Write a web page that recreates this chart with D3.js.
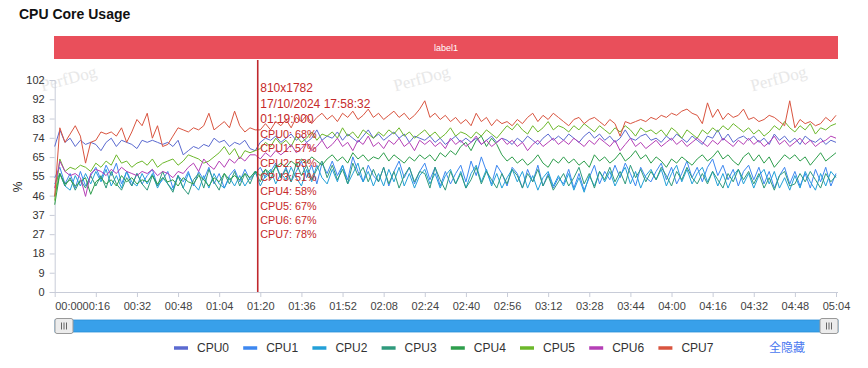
<!DOCTYPE html>
<html><head><meta charset="utf-8">
<script src="https://cdn.jsdelivr.net/npm/d3@7"></script>
<style>body{margin:0;background:#fff;}svg{display:block;font-family:"Liberation Sans",Arial,sans-serif;}</style>
</head><body><svg id="c" width="868" height="368"></svg>
<script>
const seriesNames = ["CPU0","CPU1","CPU2","CPU3","CPU4","CPU5","CPU6","CPU7"];
const colors = ["#5b6ad0","#3d87f0","#23a0d8","#2f9a7c","#2e9e4c","#6cb82b","#b53fb6","#d9543f"];
const timeStep = 2; // seconds between samples
const cpu0 = [70,78,72,74,70,73,71,72,71, 68,72,74,70,73,72,71,69,73, 72,73,72,71,72,70,73,66,68, 70,69,71,70,74,72,73,70,72, 71,73,69,68,72,74,73,75,72, 74,76,73,75,72,74,78,73,75, 74,77,73,76,74,72,75,78,74, 76,73,75,77,74,76,72,75,74, 73,75,72,74,71,73,75,72,74, 72,74,71,73,75,72,74,73,71, 74,72,75,73,71,74,76,73,75, 73,76,74,72,75,77,74,76,73, 75,72,74,78,74,73,75,76,73, 74,72,75,73,76,74,72,75,73, 71,75,74,78,73,76,72,74,75, 73,75,72,74,71,76,73,75,72, 74,71,75,73,72,74,71,73,72];
const cpu1 = [55,60,52,57,50,58,51,56,60, 54,61,56,62,52,58,51,57,52, 56,59,51,54,58,50,56,53,58, 51,58,54,60,52,57,50,56,59, 53,59,54,57,60,55,58,62,55, 60,53,58,63,55,61,52,62,57, 63,56,61,54,65,58,53,61,56, 53,60,51,58,63,55,60,52,58, 62,54,60,51,58,52,57,61,53, 63,56,65,58,52,61,57,51,60, 57,50,59,53,61,51,57,50,55, 52,59,50,57,49,55,61,52,58, 54,61,55,62,57,51,60,55,53, 58,62,54,60,52,57,63,55,60, 53,60,64,56,61,54,59,51,58, 61,54,60,52,58,50,56,60,52, 58,51,57,50,59,53,60,51,57];
const cpu2 = [52,57,51,49,56,51,57,52,58, 53,59,51,56,50,58,53,51,57, 52,57,50,55,52,49,56,50,57, 52,49,56,50,57,52,50,55,51, 56,51,55,58,51,56,59,52,57, 54,60,55,51,59,53,61,55,52, 59,53,61,52,57,62,53,58,51, 57,51,59,53,60,51,57,50,56, 59,52,57,50,56,59,52,58,50, 57,61,53,59,51,57,50,55,59, 53,58,50,56,49,55,58,51,56, 51,57,49,55,48,56,51,58,53, 58,51,56,60,52,58,50,56,59, 54,59,51,57,61,53,59,52,57, 60,53,58,51,57,50,56,59,52, 57,50,56,59,52,58,50,55,49, 56,50,58,53,49,57,51,58,55];
const cpu3 = [46,57,51,55,49,54,50,56,51, 56,50,58,52,49,55,51,57,52, 49,56,51,58,52,48,56,50,47, 54,57,50,59,53,49,57,52,58, 51,57,52,58,53,59,54,61,55, 59,53,62,56,61,54,59,63,55, 61,54,59,52,62,56,60,53,59, 53,60,52,58,50,56,60,53,58, 57,50,60,54,49,58,52,57,50, 54,60,52,58,54,50,57,52,59, 56,50,57,53,59,51,56,49,53, 57,51,55,60,52,57,50,58,54, 60,53,58,52,61,55,59,53,58, 54,60,56,51,58,54,60,55,52, 57,52,58,54,50,57,53,59,54, 58,52,57,50,55,49,56,58,51, 52,57,53,58,54,50,57,53,56];
const cpu4 = [42,57,52,54,51,53,55,47,53, 55,52,54,51,56,53,55,52,54, 53,56,52,55,53,54,51,55,53, 52,56,54,51,55,53,57,54,56, 54,57,55,58,56,59,57,60,62, 60,63,61,64,62,65,63,61,64, 66,63,65,62,67,64,66,63,65, 64,67,63,66,64,62,65,63,66, 64,66,63,67,65,68,66,70,72, 68,73,75,70,74,71,66,63,65, 62,64,61,63,66,62,60,64,62, 65,62,64,61,63,60,66,63,65, 62,64,67,63,65,68,64,66,62, 65,63,60,64,62,65,63,61,64, 66,63,65,68,64,66,63,61,65, 67,63,66,62,65,60,63,66,64, 66,63,65,61,64,67,63,65,67];
const cpu5 = [44,64,58,60,59,61,60,58,62, 60,63,61,66,62,63,60,62,63, 61,64,60,62,63,64,61,63,66, 65,64,62,63,65,67,70,66,69, 64,68,67,68,69,72,70,74,71, 73,70,75,72,74,77,73,76,75, 77,74,79,75,77,74,78,76,74, 77,75,78,76,79,75,77,74,76, 78,75,77,74,76,79,75,77,76, 74,77,75,78,76,74,77,80,78, 81,78,76,80,77,79,82,78,80, 79,77,80,78,81,79,77,80,78, 76,79,77,80,78,75,79,77,78, 76,78,75,79,77,74,78,76,74, 78,76,79,77,80,78,81,79,77, 79,76,78,75,77,80,78,82,79, 77,80,78,81,76,79,78,80,81];
const cpu6 = [50,63,58,56,57,55,46,57,59, 58,56,59,57,60,58,57,56,58, 57,59,56,58,57,55,58,57,60, 62,58,64,61,59,63,60,64,62, 65,63,66,66,64,67,65,68,66, 68,71,67,69,72,68,70,73,69, 71,74,70,72,68,73,71,75,70, 72,69,73,71,74,70,72,68,73, 71,73,70,72,69,74,71,73,70, 72,75,71,73,70,72,74,71,73, 70,72,68,71,73,70,72,74,71, 73,71,74,72,70,73,71,74,72, 70,73,68,71,74,70,72,69,71, 73,70,72,74,71,73,70,72,74, 72,70,73,71,74,72,70,73,71, 74,71,73,70,72,75,71,73,70, 72,74,71,73,70,72,73,75,74];
const cpu7 = [46,79,72,76,80,75,62,72,73, 77,76,77,75,79,72,77,83,80, 86,74,80,70,71,75,79,78,77, 79,78,80,86,78,80,82,79,87, 80,77,79,78,78,81,78,82,80, 83,79,84,82,85,81,84,86,83, 85,82,86,84,87,83,85,88,84, 86,83,85,87,84,86,83,85,88, 92,84,86,83,85,82,84,81,83, 80,86,82,84,80,83,81,82,80, 83,81,84,86,82,85,83,86,84, 82,80,83,84,81,83,84,82,80, 83,81,75,82,81,82,83,82,84, 83,85,84,86,85,87,88,86,85, 81,91,84,88,83,86,84,85,88, 83,84,82,83,85,84,82,80,92, 79,83,81,82,80,81,84,82,85];
const seriesValues = [cpu0,cpu1,cpu2,cpu3,cpu4,cpu5,cpu6,cpu7];
const yMax = 102;
const yTickLabels = ["0","9","18","27","37","46","55","65","74","83","92","102"];
const xMax = 304;
const xTickStep = 16;
const cursorTime = 79;
const tooltipHeader = ["810x1782","17/10/2024 17:58:32","01:19:000"];
const tooltipValues = [68,57,53,51,58,67,67,78];
const bandLabel = "label1";

(function(){
const svg = d3.select("#c");
const pL = 54.7, pR = 836, pT = 80, pB = 292;
const x = d3.scaleLinear().domain([0, xMax]).range([pL, pR]);
const y = d3.scaleLinear().domain([0, yMax]).range([pB, pT]);

svg.append("text").attr("x",19).attr("y",19).attr("font-size",14).attr("font-weight","bold").attr("fill","#111").text("CPU Core Usage");

svg.append("rect").attr("x",54).attr("y",36).attr("width",784).attr("height",23).attr("fill","#e94f5b");
svg.append("text").attr("x",446).attr("y",51).attr("text-anchor","middle").attr("font-size",9).attr("fill","#fff").text(bandLabel);

[[70,84],[423,84],[780,84]].forEach(p=>{
  svg.append("text").attr("transform",`translate(${p[0]},${p[1]}) rotate(-15)`).attr("text-anchor","middle")
    .attr("font-family","'Liberation Serif','DejaVu Serif',serif").attr("font-size",17).attr("fill","#e8e8e8").text("PerfDog");
});

const yTicks = d3.range(0, 12).map(i => yMax * i / 11);
const yAxis = d3.axisLeft(y).tickValues(yTicks).tickSize(5).tickFormat((d,i)=>yTickLabels[i]);
const gy = svg.append("g").attr("transform",`translate(${pL},0)`).call(yAxis);
gy.select(".domain").attr("stroke","#c8ccd8");
gy.selectAll(".tick line").attr("stroke","#c8ccd8");
gy.selectAll(".tick text").attr("font-size",11).attr("fill","#333").attr("font-family","'Liberation Sans',Arial,sans-serif").attr("dx",-2);

svg.append("text").attr("transform","translate(22,187) rotate(-90)").attr("text-anchor","middle").attr("font-size",12).attr("fill","#222").text("%");

const fmt = s => String(Math.floor(s/60)).padStart(2,"0")+":"+String(s%60).padStart(2,"0");
const xTicks = d3.range(0, xMax+1, xTickStep);
const xAxis = d3.axisBottom(x).tickValues(xTicks).tickSize(5).tickFormat(fmt);
const gx = svg.append("g").attr("transform",`translate(0,${pB})`).call(xAxis);
gx.select(".domain").attr("stroke","#c8ccd8").attr("d",`M${pL},0.5H838`);
gx.selectAll(".tick line").attr("stroke","#c8ccd8");
gx.selectAll(".tick text").attr("font-size",11).attr("fill","#444").attr("font-family","'Liberation Sans',Arial,sans-serif").attr("dy","0.9em");
gx.selectAll(".tick text").filter(d=>d===0).attr("text-anchor","start");

const line = d3.line().x((d,i)=>x(i*timeStep)).y(d=>y(d));
seriesValues.forEach((vals,k)=>{
  svg.append("path").datum(vals).attr("d",line).attr("fill","none").attr("stroke",colors[k]).attr("stroke-width",1).attr("stroke-linejoin","round");
});

const cx = x(cursorTime);
svg.append("line").attr("x1",cx).attr("x2",cx).attr("y1",60).attr("y2",pB).attr("stroke","#c0282d").attr("stroke-width",1.6);
const tipColor = "#c62a2a";
const tipX = cx + 2.5;
const headerY = [92,108,123];
tooltipHeader.forEach((t,i)=>{
  svg.append("text").attr("x",tipX).attr("y",headerY[i]).attr("font-size",12).attr("fill",tipColor).text(t);
});
tooltipValues.forEach((v,i)=>{
  svg.append("text").attr("x",tipX).attr("y",138+i*14.3).attr("font-size",10.8).attr("fill",tipColor).text(`${seriesNames[i]}: ${v}%`);
});

svg.append("rect").attr("x",55).attr("y",320).attr("width",783).attr("height",12).attr("fill","#38a0ea").attr("stroke","#2a8ed8").attr("stroke-width",0.8);
function handle(hx){
  svg.append("rect").attr("x",hx).attr("y",318.5).attr("width",18).attr("height",15).attr("rx",2).attr("fill","#ececec").attr("stroke","#999").attr("stroke-width",1);
  [-2.5,0,2.5].forEach(o=>svg.append("line").attr("x1",hx+9+o).attr("x2",hx+9+o).attr("y1",322.5).attr("y2",329.5).attr("stroke","#666").attr("stroke-width",1));
}
handle(55); handle(820);

seriesNames.forEach((n,i)=>{
  const lx = 174 + i*69.2;
  svg.append("line").attr("x1",lx).attr("x2",lx+14).attr("y1",348).attr("y2",348).attr("stroke",colors[i]).attr("stroke-width",3.5);
  svg.append("text").attr("x",lx+23).attr("y",352).attr("font-size",12).attr("fill","#333").text(n);
});
svg.append("text").attr("x",769).attr("y",352).attr("font-size",12).attr("fill","#4a78f0").attr("font-family","'Noto Sans CJK SC',sans-serif").text("全隐藏");
})();
</script>
</body></html>
